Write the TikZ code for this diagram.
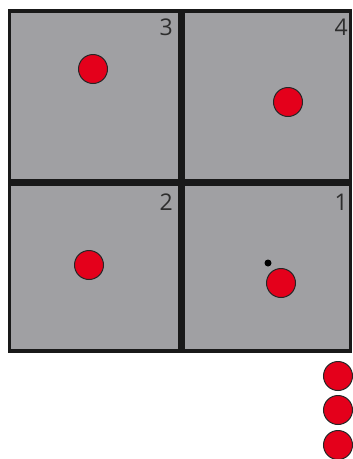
\documentclass[tikz,border=0pt]{standalone}
\usepackage{fontspec}
\setmainfont{Open Sans}
\definecolor{cellgray}{RGB}{160,160,163}
\definecolor{ballred}{RGB}{228,0,27}
\definecolor{numgray}{RGB}{45,45,45}
\tikzset{
  ball/.style={circle, fill=ballred, draw=black!85, line width=1pt, minimum size=29pt, inner sep=0pt},
  num/.style={text=numgray, font=\fontsize{23}{27}\selectfont, inner sep=0pt, anchor=north east},
  divider/.style={line width=6.5pt, draw=black!90}
}
\begin{document}
\begin{tikzpicture}[x=1pt,y=-1pt]
\useasboundingbox (0,0) rectangle (353,459);
\fill[white] (0,0) rectangle (353,459);
\draw[fill=cellgray, line width=3.5pt, draw=black!90] (9.5,11) rectangle (350.5,351);
\coordinate (vt) at (181.7,11);
\coordinate (vb) at (181.7,351);
\coordinate (hl) at (9.5,182.3);
\coordinate (hr) at (350.5,182.3);
\draw[divider] (vt) -- (vb);
\draw[divider] (hl) -- (hr);
\node[num] (n3) at (173,19) {3};
\node[num] (n4) at (348,19) {4};
\node[num] (n2) at (173,194) {2};
\node[num] (n1) at (348,194) {1};
\node[ball] (b3) at (93,69) {};
\node[ball] (b4) at (288,102) {};
\node[ball] (b2) at (89,265) {};
\node[ball] (b1) at (281,283) {};
\node[circle, fill=black, inner sep=0pt, minimum size=7pt] (dot) at (268,263) {};
\node[ball] (s1) at (338,376) {};
\node[ball] (s2) at (338,410) {};
\node[ball] (s3) at (338,445) {};
\end{tikzpicture}
\end{document}
